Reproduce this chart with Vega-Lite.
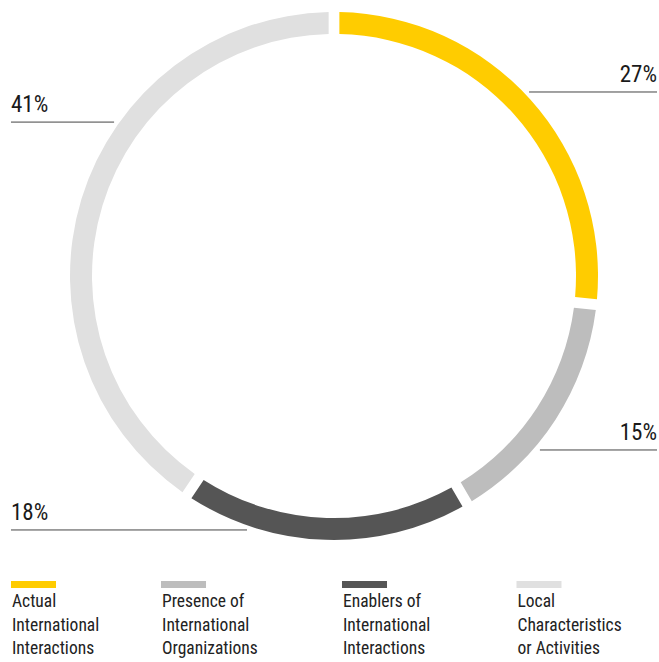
{
  "$schema": "https://vega.github.io/schema/vega-lite/v6.json",
  "width": 659,
  "height": 662,
  "padding": 0,
  "autosize": {"type": "none"},
  "background": "white",
  "config": {
    "view": {"stroke": null},
    "font": "Roboto Condensed, Liberation Sans Narrow, Roboto, sans-serif"
  },
  "data": {
    "values": [
      {"category": "Actual International Interactions", "pct": 27, "rank": 1, "label": "27%", "side": "right", "callout_y": 0.697, "callout_start": 0.739, "callout_end": 1.2235, "legend_x": -1.2235, "legend_x2": -1.053, "legend_text": "Actual\nInternational\nInteractions"},
      {"category": "Presence of International Organizations", "pct": 15, "rank": 2, "label": "15%", "side": "right", "callout_y": -0.659, "callout_start": 0.78, "callout_end": 1.2235, "legend_x": -0.6553, "legend_x2": -0.4848, "legend_text": "Presence of\nInternational\nOrganizations"},
      {"category": "Enablers of International Interactions", "pct": 18, "rank": 3, "label": "18%", "side": "left", "callout_y": -0.962, "callout_start": -1.2235, "callout_end": -0.3295, "legend_x": 0.0303, "legend_x2": 0.2008, "legend_text": "Enablers of\nInternational\nInteractions"},
      {"category": "Local Characteristics or Activities", "pct": 41, "rank": 4, "label": "41%", "side": "left", "callout_y": 0.583, "callout_start": -1.2235, "callout_end": -0.833, "legend_x": 0.6913, "legend_x2": 0.8617, "legend_text": "Local\nCharacteristics\nor Activities"}
    ]
  },
  "layer": [
    {
      "mark": {"type": "arc", "outerRadius": 264, "innerRadius": 242, "padAngle": 0.03},
      "encoding": {
        "theta": {"field": "pct", "type": "quantitative", "stack": true},
        "order": {"field": "rank", "type": "quantitative"},
        "color": {
          "field": "category",
          "type": "nominal",
          "scale": {
            "domain": ["Actual International Interactions", "Presence of International Organizations", "Enablers of International Interactions", "Local Characteristics or Activities"],
            "range": ["#FFCC00", "#BDBDBD", "#555555", "#E0E0E0"]
          },
          "legend": null
        },
        "x": {"datum": 0, "type": "quantitative", "scale": {"domain": [-1.26515, 1.23106], "nice": false, "zero": false}, "axis": null},
        "y": {"datum": 0, "type": "quantitative", "scale": {"domain": [-1.46212, 1.04545], "nice": false, "zero": false}, "axis": null}
      }
    },
    {
      "mark": {"type": "rule", "color": "#444444", "strokeWidth": 1},
      "encoding": {
        "x": {"field": "callout_start", "type": "quantitative"},
        "x2": {"field": "callout_end"},
        "y": {"field": "callout_y", "type": "quantitative"}
      }
    },
    {
      "transform": [{"filter": "datum.side === 'right'"}],
      "mark": {"type": "text", "align": "right", "baseline": "alphabetic", "fontSize": 23, "dy": -10, "color": "#1a1a1a"},
      "encoding": {
        "x": {"field": "callout_end", "type": "quantitative"},
        "y": {"field": "callout_y", "type": "quantitative"},
        "text": {"field": "label"}
      }
    },
    {
      "transform": [{"filter": "datum.side === 'left'"}],
      "mark": {"type": "text", "align": "left", "baseline": "alphabetic", "fontSize": 23, "dy": -10, "color": "#1a1a1a"},
      "encoding": {
        "x": {"field": "callout_start", "type": "quantitative"},
        "y": {"field": "callout_y", "type": "quantitative"},
        "text": {"field": "label"}
      }
    },
    {
      "mark": {"type": "rect"},
      "encoding": {
        "x": {"field": "legend_x", "type": "quantitative"},
        "x2": {"field": "legend_x2"},
        "y": {"datum": -1.1553, "type": "quantitative"},
        "y2": {"datum": -1.1818},
        "color": {"field": "category", "type": "nominal"}
      }
    },
    {
      "mark": {"type": "text", "align": "left", "baseline": "alphabetic", "fontSize": 17.5, "lineHeight": 23.5, "lineBreak": "\n", "dx": 1, "color": "#222222"},
      "encoding": {
        "x": {"field": "legend_x", "type": "quantitative"},
        "y": {"datum": -1.2538, "type": "quantitative"},
        "text": {"field": "legend_text"}
      }
    }
  ]
}
